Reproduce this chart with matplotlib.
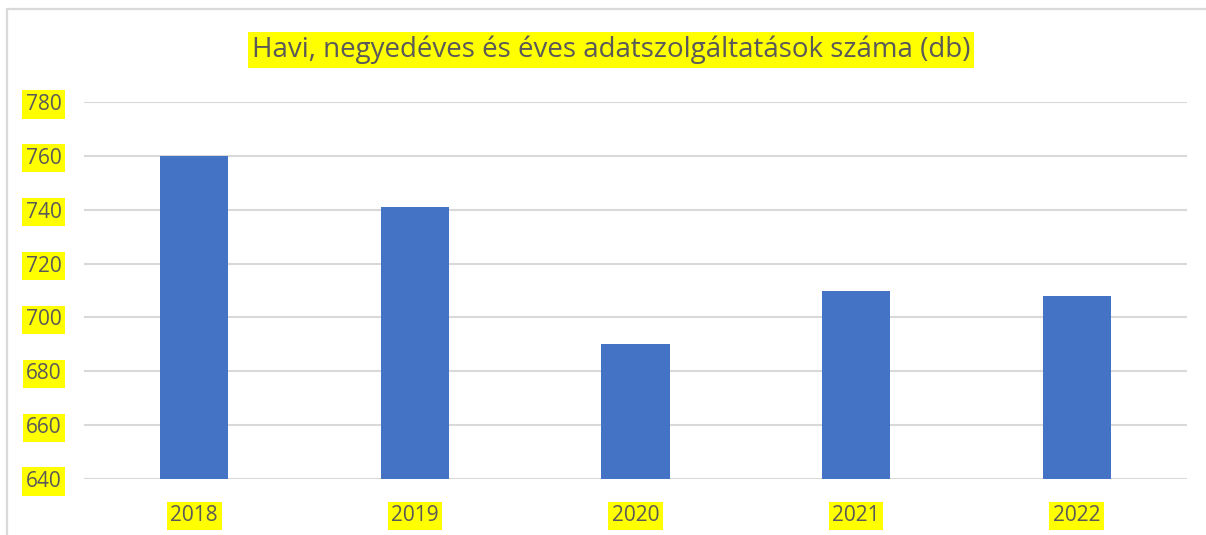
import matplotlib
matplotlib.use("Agg")
import matplotlib.pyplot as plt
from matplotlib.patches import Rectangle

years = ["2018", "2019", "2020", "2021", "2022"]
values = [760, 741, 690, 710, 708]
title = "Havi, negyedéves és éves adatszolgáltatások száma (db)"
yticks = [640, 660, 680, 700, 720, 740, 760, 780]

W, H = 1206, 535
fig = plt.figure(figsize=(W / 100, H / 100), dpi=100)
fig.patch.set_facecolor("white")

# outer chart border
fig.add_artist(Rectangle((7 / W, -0.1), 1.2, (H - 9) / H + 0.1, transform=fig.transFigure,
                         fill=False, edgecolor="#d9d9d9", linewidth=1.6))

ax = fig.add_axes([84 / W, 56 / H, (1187 - 84) / W, (479 - 102) / H])
ax.set_facecolor("white")
x = range(len(years))
ax.bar(x, values, width=0.31, color="#4472C4", zorder=3)
ax.set_ylim(640, 780)
ax.set_xlim(-0.5, len(years) - 0.5)
ax.set_yticks(yticks)
ax.grid(axis="y", color="#d9d9d9", linewidth=1.5, zorder=0)
for s in ax.spines.values():
    s.set_visible(False)
ax.tick_params(length=0)

txt = dict(fontfamily="Open Sans", fontsize=15, color="#595959")
ax.set_xticks(list(x))
ax.set_xticklabels(years, **txt)
ax.set_yticklabels([str(v) for v in yticks], **txt)
ax.tick_params(axis="y", pad=16)
ax.tick_params(axis="x", pad=19)
for lab in ax.get_xticklabels() + ax.get_yticklabels():
    lab.set_bbox(dict(facecolor="#ffff00", edgecolor="none", pad=2.5))

fig.text(611 / W, (H - 50) / H, title, ha="center", va="center",
         fontfamily="Open Sans", fontsize=20, color="#595959",
         bbox=dict(facecolor="#ffff00", edgecolor="none", pad=3))

fig.savefig("out.png", dpi=100)
